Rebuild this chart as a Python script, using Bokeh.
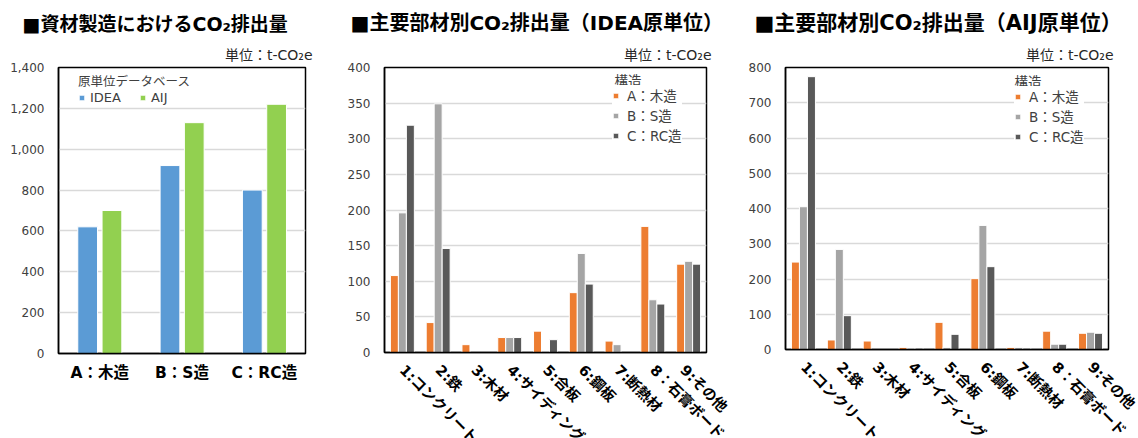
import math
from bokeh.plotting import figure
from bokeh.layouts import row
from bokeh.models import (FactorRange, FixedTicker, NumeralTickFormatter, Legend,
                          LegendItem, Title, Label, ColumnDataSource)
from bokeh.transform import dodge
from bokeh.embed import file_html
from bokeh.resources import INLINE

FONT = "'DejaVu Sans', 'Noto Sans CJK JP'"

# ---- data ----
structures = ["A：木造", "B：S造", "C：RC造"]
db_names = ["IDEA", "AIJ"]
idea_total = [620, 920, 800]
aij_total = [700, 1130, 1220]

materials = ["1:コンクリート", "2:鉄", "3:木材", "4:サイディング", "5:合板",
             "6:鋼板", "7:断熱材", "8：石膏ボード", "9:その他"]
series_names = ["A：木造", "B：S造", "C：RC造"]
idea_A = [108, 42, 11, 21, 30, 84, 16, 177, 124]
idea_B = [196, 349, 0, 21, 2, 139, 11, 74, 128]
idea_C = [319, 146, 0, 21, 18, 96, 0, 68, 124]
aij_A = [248, 27, 24, 6, 77, 201, 6, 52, 46]
aij_B = [405, 284, 0, 4, 6, 352, 6, 15, 49]
aij_C = [774, 96, 0, 4, 43, 235, 4, 15, 46]

titles = ["■資材製造におけるCO₂排出量",
          "■主要部材別CO₂排出量（IDEA原単位）",
          "■主要部材別CO₂排出量（AIJ原単位）"]
unit_text = "単位：t-CO₂e"
legend_title_1 = "原単位データベース"
legend_title_2 = "構造"

C_IDEA, C_AIJ = "#5B9BD5", "#92D050"
C_A, C_B, C_C = "#ED7D31", "#A5A5A5", "#595959"
TICK_COLOR = "#404040"


def base_fig(cats, width, frame_w, frame_h, left, top, bottom, ymax, ystep):
    p = figure(x_range=FactorRange(*cats, range_padding=0),
               y_range=(0, ymax), width=width, height=438,
               frame_width=frame_w, frame_height=frame_h,
               min_border_left=left, min_border_right=width - left - frame_w,
               min_border_top=top, min_border_bottom=bottom,
               output_backend="svg", toolbar_location=None)
    p.title.text = ""
    p.outline_line_color = "black"
    p.outline_line_width = 1.5
    p.background_fill_color = "white"
    p.border_fill_color = "white"
    p.xgrid.grid_line_color = None
    p.ygrid.grid_line_color = "#D9D9D9"
    p.ygrid.grid_line_width = 1.5
    p.yaxis.ticker = FixedTicker(ticks=list(range(0, ymax + 1, ystep)))
    p.yaxis.formatter = NumeralTickFormatter(format="0,0")
    for ax in (p.xaxis[0], p.yaxis[0]):
        ax.axis_line_color = "black"
        ax.axis_line_width = 1.5
        ax.major_tick_line_color = None
        ax.minor_tick_line_color = None
        ax.major_tick_out = 0
        ax.major_tick_in = 0
        ax.minor_tick_out = 0
        ax.minor_tick_in = 0
    p.yaxis.major_label_text_font = FONT
    p.yaxis.major_label_text_font_size = "12px"
    p.yaxis.major_label_text_color = TICK_COLOR
    p.yaxis.major_label_standoff = 14
    p.xaxis.major_label_text_font = FONT
    p.xaxis.major_label_text_color = "black"
    p.xaxis.major_label_text_font_style = "bold"
    return p


def add_texts(p, title, toff, uoff, tsize):
    p.add_layout(Title(text=unit_text, align="right", offset=uoff, standoff=9,
                       text_font=FONT, text_font_size="14px",
                       text_font_style="normal", text_color="#262626"), "above")
    p.add_layout(Title(text=title, align="left", offset=toff, standoff=12,
                       text_font=FONT, text_font_size=tsize,
                       text_font_style="bold", text_color="black"), "above")


def style_legend(lg, fs_t, fs_l, gw):
    lg.title_text_font = FONT
    lg.title_text_font_size = fs_t
    lg.title_text_font_style = "normal"
    lg.title_text_color = TICK_COLOR
    lg.label_text_font = FONT
    lg.label_text_font_size = fs_l
    lg.label_text_color = TICK_COLOR
    lg.glyph_width = gw
    lg.glyph_height = gw
    lg.padding = 5
    lg.margin = 0
    lg.border_line_color = None
    lg.background_fill_color = "white"
    lg.background_fill_alpha = 1.0


# ---- chart 1 ----
p1 = base_fig(structures, 330, 247, 286, 58, 66, 86, 1400, 200)
src1 = ColumnDataSource(dict(cat=structures, idea=idea_total, aij=aij_total))
r_idea = p1.vbar(x=dodge("cat", -0.146, range=p1.x_range), top="idea", width=0.24,
                 source=src1, fill_color=C_IDEA, line_color="white", line_width=1)
r_aij = p1.vbar(x=dodge("cat", 0.149, range=p1.x_range), top="aij", width=0.24,
                source=src1, fill_color=C_AIJ, line_color="white", line_width=1)
p1.xaxis.major_label_text_font_size = "15.5px"
p1.xaxis.major_label_standoff = 10
leg1 = Legend(items=[LegendItem(label=db_names[0], renderers=[r_idea]),
                     LegendItem(label=db_names[1], renderers=[r_aij])],
              location=(20, 248), orientation="horizontal",
              title=legend_title_1)
style_legend(leg1, "12.5px", "13px", 7)
leg1.title_standoff = 0
leg1.label_height = 14
leg1.spacing = 18
leg1.label_standoff = 5
p1.add_layout(leg1)
add_texts(p1, titles[0], -36, -7, "19px")


def material_chart(width, frame_w, frame_h, left, top, bottom, ymax, ystep,
                   a, b, c, title, toff, uoff, tsize, legloc, ltx, lty):
    p = base_fig(materials, width, frame_w, frame_h, left, top, bottom, ymax, ystep)
    src = ColumnDataSource(dict(cat=materials, a=a, b=b, c=c))
    rs = []
    for off, col, color in ((-0.223, "a", C_A), (0.0, "b", C_B), (0.223, "c", C_C)):
        rs.append(p.vbar(x=dodge("cat", off, range=p.x_range), top=col, width=0.223,
                         source=src, fill_color=color, line_color="white",
                         line_width=1))
    p.xaxis.major_label_orientation = -math.pi / 4
    p.xaxis.major_label_text_font_size = "14.5px"
    p.xaxis.major_label_standoff = 15
    leg = Legend(items=[LegendItem(label=n, renderers=[r]) for n, r in zip(series_names, rs)],
                 location=legloc)
    style_legend(leg, "13.5px", "13.5px", 7)
    leg.label_height = 18
    leg.spacing = 0
    leg.label_standoff = 8
    p.add_layout(leg)
    p.add_layout(Label(x=ltx, y=lty, text=legend_title_2, text_font=FONT,
                       text_font_size="13.5px", text_color=TICK_COLOR,
                       text_baseline="middle", text_align="left", level="overlay"))
    add_texts(p, title, toff, uoff, tsize)
    return p


p2 = material_chart(400, 322, 285, 54, 67, 86, 400, 50, idea_A, idea_B, idea_C,
                    titles[1], -34, -5, "20px", (228, 207), 6.43, 380.5)
p3 = material_chart(408, 323, 282, 55, 67, 89, 800, 100, aij_A, aij_B, aij_C,
                    titles[2], -31, -5, "21px", (229, 203), 6.38, 760)

layout = row(p1, p2, p3)
open("out.html", "w").write(file_html(layout, INLINE))
